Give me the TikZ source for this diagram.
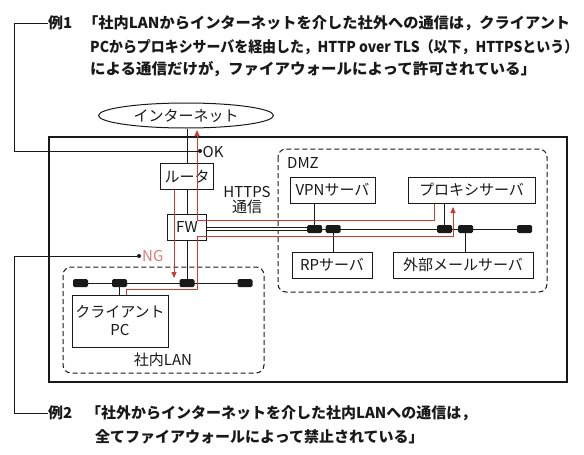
\documentclass[tikz,border=0pt]{standalone}
\usepackage{fontspec}
\usepackage{graphicx}
\setmainfont{Noto Sans CJK JP}
\usetikzlibrary{arrows.meta,shapes.geometric}
\definecolor{rline}{RGB}{200,60,50}
\definecolor{ngcol}{RGB}{215,125,120}
\definecolor{ink}{RGB}{25,25,25}
\begin{document}
\begin{tikzpicture}[x=1pt,y=-1pt,
  font=\fontsize{15}{18}\selectfont,
  box/.style={draw=ink, line width=1pt, inner sep=0pt, minimum height=26pt, text=ink},
  term/.style={fill=ink, rounded corners=1.5pt, minimum width=15pt, minimum height=8pt, inner sep=0pt},
  wire/.style={draw=ink, line width=1pt},
  route/.style={draw=rline, line width=1pt},
  tip/.style={-{Triangle[length=6pt,width=5pt]}},
  zone/.style={draw=ink, dash pattern=on 5pt off 3pt, line width=1pt, rounded corners=8pt},
  extxt/.style={anchor=west, inner sep=0pt, font=\fontsize{15}{18}\selectfont\bfseries, text=ink},
  dot/.style={circle, fill=ink, inner sep=0pt, minimum size=4pt}]
\useasboundingbox (0,0) rectangle (584,455);
\fill[white] (0,0) rectangle (584,455);

% zones and frame
\draw[wire, line width=1.2pt] (49,137) rectangle (567,382);
\draw[zone] (278,149) rectangle (547,292);
\draw[zone] (63,267) rectangle (264,373);

% nodes
\node[ellipse, draw=ink, line width=1pt, minimum width=175pt, minimum height=25pt, inner sep=0pt, text=ink] (inet) at (186,115.5) {インターネット};
\node[box, minimum width=53pt] (router) at (187,176.5) {ルータ};
\node[box, minimum width=39pt] (fw) at (187,227) {FW};
\node[box, minimum width=85pt] (vpn) at (332.5,190) {VPNサーバ};
\node[box, minimum width=127pt] (proxy) at (471.5,190) {プロキシサーバ};
\node[box, minimum width=80pt] (rp) at (332,265) {RPサーバ};
\node[box, minimum width=140pt] (mail) at (463,265) {外部メールサーバ};
\node[box, minimum width=96pt, minimum height=52pt, align=center] (pc) at (120,321) {クライアント\\PC};

\node[anchor=west, inner sep=0pt, text=ink] (dmz) at (287,163) {DMZ};
\node[text=ink] (lan) at (163,360) {社内LAN};
\node[align=center, inner sep=0pt, text=ink, font=\fontsize{15}{15}\selectfont] (https) at (247,200.5) {HTTPS\\通信};

% wires
\draw[wire] (80.5,283) -- (245,283);
\draw[wire] (314.5,229) -- (524.5,229);
\node[term] (lt1) at (80.5,283) {};
\node[term] (lt2) at (119.5,283) {};
\node[term] (lt3) at (187,283) {};
\node[term] (lt4) at (245,283) {};
\node[term] (dt1) at (314.5,229) {};
\node[term] (dt2) at (333,229) {};
\node[term] (dt3) at (444.5,229) {};
\node[term] (dt4) at (465.5,229) {};
\node[term] (dt5) at (524.5,229) {};

\draw[wire] (lt2) -- (lt2 |- pc.north);
\draw[wire] (inet.south -| router.north) -- (router.north);
\draw[wire] (router.south) -- (fw.north);
\draw[wire] (fw.south) -- (lt3);
\draw[draw=ink, line width=0.9pt, double, double distance=2pt] (fw.east |- dt1) -- (dt1.west);
\draw[wire] (vpn.south -| dt1) -- (dt1);
\draw[wire] (rp.north -| dt2) -- (dt2);
\draw[wire] (proxy.south -| dt3) -- (dt3);
\draw[wire] (mail.north -| dt4) -- (dt4);

% red routes
\coordinate (pcr) at ([xshift=6pt]pc.north);
\coordinate (lanr) at (197,289);
\coordinate (dmzlow) at (453,236);
\coordinate (pxin) at (453,207);
\coordinate (pxout) at ([xshift=-37.5pt]proxy.south);
\coordinate (netin) at (197,130);
\draw[route, tip] (pcr) |- (lanr) |- (dmzlow) -- (pxin);
\draw[route, tip] (pxout) |- (197,220) -- (netin);
\draw[route, tip] ([xshift=-13pt]router.south) -- ++(0,88);

% OK / NG
\node[dot] (okdot) at (200,151) {};
\node[dot] (ngdot) at (139,256) {};
\node[anchor=west, inner sep=0pt, text=ink] (ok) at (202.5,152) {OK};
\node[anchor=west, inner sep=0pt, text=ngcol] (ng) at (142,256) {NG};

% examples
\node[extxt] (ex1) at (48,23) {例1};
\node[extxt] (ex1a) at (83,23) {\resizebox{487pt}{\height}{「社内LANからインターネットを介した社外への通信は，クライアント}};
\node[extxt] (ex1b) at (90,47) {\resizebox{488pt}{\height}{PCからプロキシサーバを経由した，HTTP over TLS（以下，HTTPSという）}};
\node[extxt] (ex1c) at (90,69) {\resizebox{446pt}{\height}{による通信だけが，ファイアウォールによって許可されている」}};
\node[extxt] (ex2) at (48,413) {例2};
\node[extxt] (ex2a) at (86,413) {「社外からインターネットを介した社内LANへの通信は，};
\node[extxt] (ex2b) at (95,437) {全てファイアウォールによって禁止されている」};

\coordinate (c1) at (14,151);
\coordinate (c2) at (14,413);
\draw[wire] (ex1.west) -| (c1) -- (okdot);
\draw[wire] (ngdot) -| (c2) -- (ex2.west);
\end{tikzpicture}
\end{document}
